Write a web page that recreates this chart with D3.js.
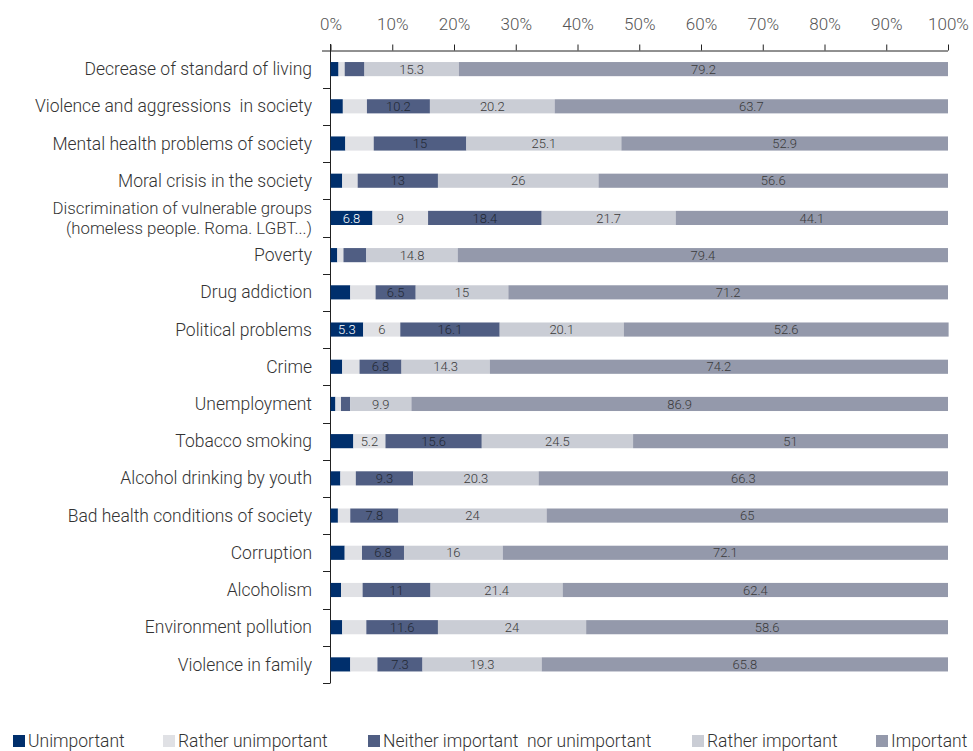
<!DOCTYPE html>
<html>
<head>
<meta charset="utf-8">
<script src="https://cdn.jsdelivr.net/npm/d3@7/dist/d3.min.js"></script>
<style>
  html, body { margin: 0; padding: 0; background: #fff; }
  svg text { font-family: "Roboto", "Lato", sans-serif; font-weight: 300; }
</style>
</head>
<body>
<svg id="chart" width="973" height="751"></svg>
<script>
// Survey answers: how important each social problem is (% of respondents)
const categories = [
  "Decrease of standard of living",
  "Violence and aggressions  in society",
  "Mental health problems of society",
  "Moral crisis in the society",
  "Discrimination of vulnerable groups|(homeless people. Roma. LGBT...)",
  "Poverty",
  "Drug addiction",
  "Political problems",
  "Crime",
  "Unemployment",
  "Tobacco smoking",
  "Alcohol drinking by youth",
  "Bad health conditions of society",
  "Corruption",
  "Alcoholism",
  "Environment pollution",
  "Violence in family"
];
const seriesNames = ["Unimportant", "Rather unimportant", "Neither important  nor unimportant", "Rather important", "Important"];
const unimportant       = [1.3, 2.0, 2.4, 1.9, 6.8, 1.1, 3.2, 5.3, 1.9, 0.8, 3.7, 1.6, 1.2, 2.3, 1.7, 1.9, 3.2];
const ratherUnimportant = [1.0, 3.9, 4.6, 2.5, 9.0, 1.0, 4.1, 6.0, 2.8, 0.9, 5.2, 2.5, 2.0, 2.8, 3.5, 3.9, 4.4];
const neither           = [3.2, 10.2, 15.0, 13.0, 18.4, 3.7, 6.5, 16.1, 6.8, 1.5, 15.6, 9.3, 7.8, 6.8, 11.0, 11.6, 7.3];
const ratherImportant   = [15.3, 20.2, 25.1, 26.0, 21.7, 14.8, 15.0, 20.1, 14.3, 9.9, 24.5, 20.3, 24.0, 16.0, 21.4, 24.0, 19.3];
const important         = [79.2, 63.7, 52.9, 56.6, 44.1, 79.4, 71.2, 52.6, 74.2, 86.9, 51.0, 66.3, 65.0, 72.1, 62.4, 58.6, 65.8];
const tickValues = [0, 10, 20, 30, 40, 50, 60, 70, 80, 90, 100];

const colors = ["#002f6c", "#e0e1e5", "#505e83", "#cacdd5", "#9499ab"];
const labelColors = ["#ffffff", "#3a3a3a", "#222833", "#3a3a3a", "#3a3a3a"];
const seriesValues = [unimportant, ratherUnimportant, neither, ratherImportant, important];

const rows = categories.map((c, i) => {
  const r = { cat: c };
  seriesValues.forEach((s, k) => r["s" + k] = s[i]);
  return r;
});
const keys = seriesNames.map((_, k) => "s" + k);
const stacked = d3.stack().keys(keys)(rows);

const svg = d3.select("#chart");
const x = d3.scaleLinear().domain([0, 100]).range([330.5, 948]);
const y = d3.scaleBand().domain(categories).range([50.5, 683]).paddingInner(0.62).paddingOuter(0.31);

// top percentage axis
const xAxis = svg.append("g").attr("transform", "translate(0,50.5)")
  .call(d3.axisTop(x).tickValues(tickValues).tickFormat(d => d + "%").tickSize(6).tickPadding(15));
xAxis.select(".domain").attr("stroke", "#222").attr("d", "M322,0.5H948");
xAxis.selectAll(".tick line").attr("stroke", "#222");
xAxis.selectAll(".tick text").attr("fill", "#555").style("font-size", "17px");

// left category axis: tick marks between rows
const yAxisG = svg.append("g");
yAxisG.append("line").attr("x1", 330.5).attr("x2", 330.5).attr("y1", 44).attr("y2", 683)
  .attr("stroke", "#222");
const bounds = d3.range(categories.length + 1).map(i => 50.5 + i * (683 - 50.5) / categories.length);
yAxisG.selectAll("line.sep").data(bounds.slice(1)).join("line")
  .attr("class", "sep")
  .attr("x1", 323).attr("x2", 330.5)
  .attr("y1", d => Math.round(d) + 0.5).attr("y2", d => Math.round(d) + 0.5)
  .attr("stroke", "#222");

// category labels (a "|" splits a label over two lines)
const labelG = svg.append("g");
categories.forEach(c => {
  const lines = c.split("|");
  const cy = y(c) + y.bandwidth() / 2;
  const multi = lines.length > 1;
  lines.forEach((ln, j) => {
    labelG.append("text")
      .attr("x", 312).attr("text-anchor", "end")
      .attr("y", cy + (j - (lines.length - 1) / 2) * 19.5)
      .attr("dy", "0.35em")
      .attr("fill", "#333").style("font-size", multi ? "16.8px" : "17.5px")
      .style("white-space", "pre")
      .text(ln);
  });
});

// stacked bars
const layer = svg.append("g").selectAll("g").data(stacked).join("g")
  .attr("fill", (d, k) => colors[k]);
layer.selectAll("rect").data(d => d).join("rect")
  .attr("x", d => x(d[0]))
  .attr("y", d => y(d.data.cat))
  .attr("width", d => x(d[1]) - x(d[0]))
  .attr("height", y.bandwidth());

// value labels on segments wide enough to hold them
const lab = svg.append("g").selectAll("g").data(stacked).join("g");
lab.each(function (s, k) {
  d3.select(this).selectAll("text")
    .data(s.filter(d => d[1] - d[0] >= 5))
    .join("text")
    .attr("x", d => (x(d[0]) + x(d[1])) / 2)
    .attr("y", d => y(d.data.cat) + y.bandwidth() / 2)
    .attr("dy", "0.36em")
    .attr("text-anchor", "middle")
    .attr("fill", labelColors[k])
    .style("font-size", "13px")
    .text(d => +(d[1] - d[0]).toFixed(1));
});

// legend
const legendX = [13, 163, 368, 692, 876];
const legend = svg.append("g").selectAll("g").data(seriesNames).join("g")
  .attr("transform", (d, i) => `translate(${legendX[i]},741)`);
legend.append("rect").attr("x", 0).attr("y", -6).attr("width", 12).attr("height", 12)
  .attr("fill", (d, i) => colors[i]);
legend.append("text").attr("x", 15).attr("dy", "0.35em")
  .attr("fill", "#333").style("font-size", "17.5px").style("white-space", "pre")
  .text(d => d);
</script>
</body>
</html>
